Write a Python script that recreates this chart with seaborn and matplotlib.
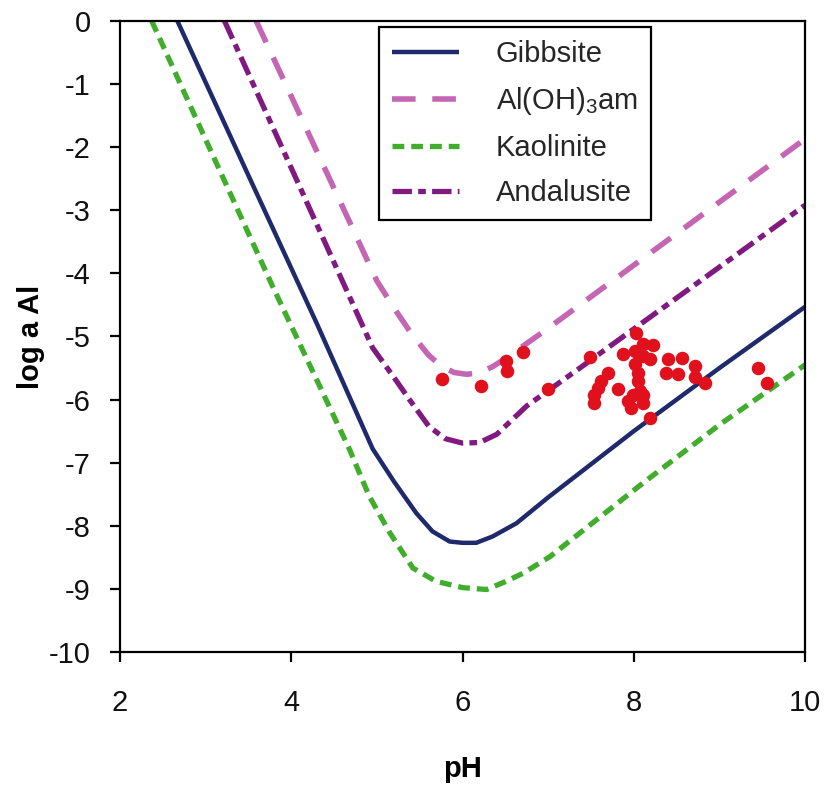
import matplotlib
matplotlib.use("Agg")
import matplotlib.pyplot as plt
import seaborn as sns
import pandas as pd

# ---- data ----
gibbsite_ph = [2.67, 3.5, 4.3, 4.95, 5.2, 5.46, 5.65, 5.85, 6.0, 6.16, 6.35, 6.63, 7.0, 8.0, 9.0, 10.0]
gibbsite_log = [0.0, -2.45, -4.8, -6.78, -7.3, -7.8, -8.09, -8.25, -8.27, -8.27, -8.17, -7.96, -7.55, -6.5, -5.5, -4.53]

amorph_ph = [3.59, 4.3, 5.0, 5.2, 5.4, 5.6, 5.75, 5.9, 6.05, 6.2, 6.35, 6.5, 7.0, 8.0, 9.0, 10.0]
amorph_log = [0.0, -2.07, -4.12, -4.55, -4.95, -5.29, -5.47, -5.57, -5.6, -5.57, -5.48, -5.35, -4.87, -3.87, -2.87, -1.87]

kaolinite_ph = [2.37, 3.0, 3.78, 4.68, 4.91, 5.15, 5.42, 5.69, 6.0, 6.28, 6.51, 6.71, 7.02, 8.11, 9.0, 10.0]
kaolinite_log = [0.0, -1.88, -4.2, -6.79, -7.53, -8.11, -8.67, -8.88, -8.98, -9.01, -8.88, -8.75, -8.49, -7.32, -6.4, -5.45]

andalusite_ph = [3.22, 4.0, 4.68, 4.95, 5.2, 5.38, 5.61, 5.8, 6.0, 6.2, 6.4, 6.75, 7.37, 8.0, 9.0, 10.0]
andalusite_log = [0.0, -2.33, -4.37, -5.18, -5.65, -6.0, -6.43, -6.62, -6.69, -6.68, -6.55, -6.1, -5.5, -4.88, -3.9, -2.92]

obs_ph = [5.76, 6.21, 6.51, 6.52, 6.71, 7.00, 7.49, 8.03, 8.11, 8.23, 7.87, 8.01, 8.11, 8.19, 8.01,
          8.40, 8.56, 8.71, 7.70, 8.05, 8.38, 8.52, 8.71, 7.62, 8.05, 8.83, 7.58, 7.82, 8.07, 7.54,
          7.99, 8.11, 7.54, 7.93, 8.11, 7.97, 8.19, 9.45, 9.55]
obs_log = [-5.67, -5.78, -5.39, -5.55, -5.25, -5.83, -5.32, -4.95, -5.12, -5.14, -5.28, -5.23, -5.31, -5.36, -5.44,
           -5.36, -5.34, -5.47, -5.58, -5.58, -5.58, -5.60, -5.65, -5.71, -5.71, -5.74, -5.81, -5.83, -5.87, -5.92,
           -5.92, -5.92, -6.05, -6.02, -6.05, -6.13, -6.29, -5.50, -5.73]

x_ticks = [2, 4, 6, 8, 10]
y_ticks = [0, -1, -2, -3, -4, -5, -6, -7, -8, -9, -10]

# ---- style ----
sns.set_theme(style="ticks")
plt.rcParams["font.family"] = ["Liberation Sans", "DejaVu Sans"]
plt.rcParams["mathtext.fontset"] = "custom"
plt.rcParams["mathtext.rm"] = "Liberation Sans"
plt.rcParams["mathtext.it"] = "Liberation Sans"
plt.rcParams["lines.scale_dashes"] = False

fig = plt.figure(figsize=(8.25, 7.92), dpi=100)
ax = fig.add_axes([0.1455, 0.1768, 0.8303, 0.7967])

series = [
    ("Gibbsite", gibbsite_ph, gibbsite_log, "#1f2a6c", 3.2, "-"),
    ("Al(OH)$_3$am", amorph_ph, amorph_log, "#c466b3", 4.0, (0, (17, 12))),
    ("Kaolinite", kaolinite_ph, kaolinite_log, "#40ad2c", 3.8, (0, (8.5, 5))),
    ("Andalusite", andalusite_ph, andalusite_log, "#811a80", 3.8, (0, (14, 4.5, 5.5, 4.5))),
]

for name, xs, ys, col, lw, ls in series:
    df = pd.DataFrame({"pH": xs, "logAl": ys})
    sns.lineplot(data=df, x="pH", y="logAl", ax=ax, color=col, lw=lw,
                 linestyle=ls, label=name, sort=False, estimator=None,
                 solid_capstyle="butt", dash_capstyle="butt", zorder=2)

obs = pd.DataFrame({"pH": obs_ph, "logAl": obs_log})
sns.scatterplot(data=obs, x="pH", y="logAl", ax=ax, color="#e0111c", s=95,
                linewidth=0, zorder=3, legend=False)

ax.set_xlim(2, 10)
ax.set_ylim(-10, 0)
ax.set_xticks(x_ticks)
ax.set_yticks(y_ticks)
ax.set_xticklabels([str(v) for v in x_ticks])
ax.set_yticklabels([str(v) for v in y_ticks])

for s in ax.spines.values():
    s.set_visible(True)
    s.set_color("black")
    s.set_linewidth(1.6)

ax.tick_params(axis="both", direction="out", length=7, width=1.6, colors="black",
               labelsize=21, labelcolor="#111111")
ax.tick_params(axis="y", pad=14)
ax.tick_params(axis="x", pad=20)
ax.set_xlabel("pH", fontsize=21, fontweight="bold", labelpad=27, color="black")
ax.set_ylabel("log a Al", fontsize=21, fontweight="bold", labelpad=3, color="black")

leg = ax.legend(loc="upper left", bbox_to_anchor=(0.378, 0.99), fontsize=21,
                frameon=True, fancybox=False, edgecolor="black", framealpha=1,
                handlelength=2.3, handletextpad=1.25, labelspacing=0.58,
                borderpad=0.45, borderaxespad=0)
leg.get_frame().set_linewidth(1.6)

fig.savefig("out.png", dpi=100)
